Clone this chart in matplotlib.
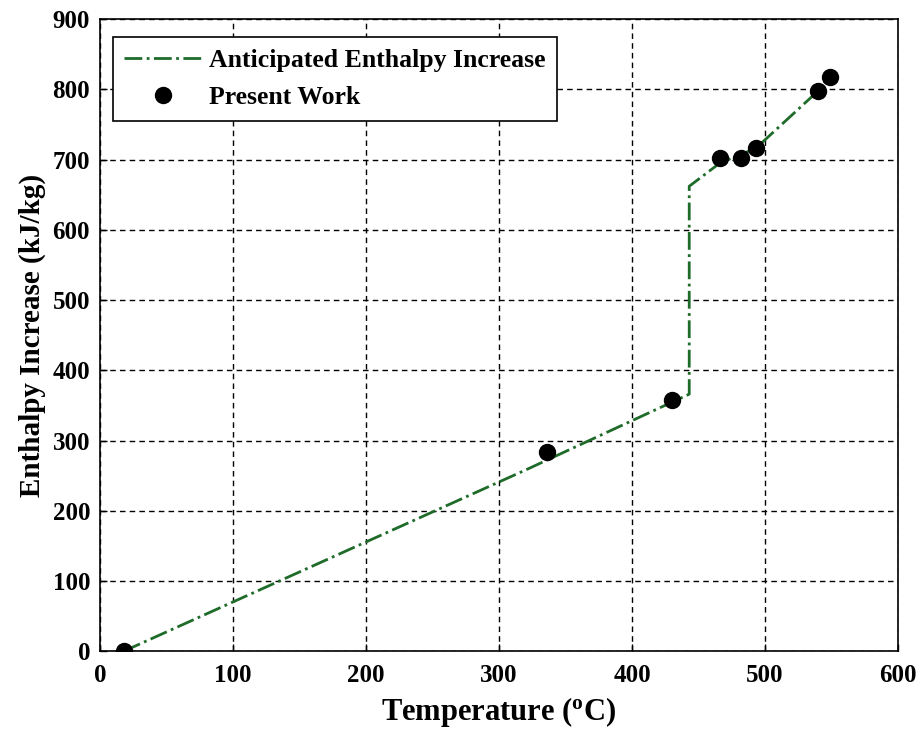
import matplotlib
matplotlib.use("Agg")
import matplotlib.pyplot as plt

# Anticipated enthalpy increase curve (vertices)
line_T = [18, 320, 443, 443, 466, 493, 540, 548]
line_H = [0, 258, 366, 662, 695, 716, 798, 818]

# Present work data points
pts_T = [18, 336, 430, 466, 482, 493, 540, 549]
pts_H = [0, 284, 358, 702, 702, 716, 798, 818]

xticks = [0, 100, 200, 300, 400, 500, 600]
yticks = [0, 100, 200, 300, 400, 500, 600, 700, 800, 900]

plt.rcParams['font.family'] = ['Liberation Serif', 'DejaVu Serif']
plt.rcParams['font.weight'] = 'bold'
plt.rcParams['mathtext.fontset'] = 'custom'
plt.rcParams['mathtext.rm'] = 'Liberation Serif:bold'
plt.rcParams['mathtext.bf'] = 'Liberation Serif:bold'
plt.rcParams['mathtext.it'] = 'Liberation Serif:bold:italic'

fig = plt.figure(figsize=(9.24, 7.35), dpi=100)
ax = fig.add_axes([0.108, 0.114, 0.864, 0.860])

ax.plot(line_T, line_H, linestyle='-.', color='#1e6b2a', linewidth=2,
        label='Anticipated Enthalpy Increase', zorder=3)
ax.plot(pts_T, pts_H, 'o', color='black', markersize=11.5,
        label='Present Work', zorder=4)

ax.set_xlim(0, 600)
ax.set_ylim(0, 900)
ax.set_xticks(xticks)
ax.set_yticks(yticks)
ax.tick_params(direction='in', labelsize=18, length=5, width=1)
ax.tick_params(axis='x', pad=9)
ax.tick_params(axis='y', pad=7)
for lab in ax.get_xticklabels() + ax.get_yticklabels():
    lab.set_fontweight('bold')
ax.grid(True, color='black', linestyle=(0, (4, 3)), linewidth=1)
for s in ax.spines.values():
    s.set_linewidth(1.2)

ax.set_xlabel('Temperature ($^{\\mathrm{o}}$C)', fontsize=22, fontweight='bold',
              labelpad=6)
ax.set_ylabel('Enthalpy Increase (kJ/kg)', fontsize=21, fontweight='bold',
              labelpad=5)

leg = ax.legend(loc='upper left', frameon=True, fancybox=False,
                edgecolor='black', framealpha=1,
                bbox_to_anchor=(0.016, 0.971), borderaxespad=0,
                handlelength=3.0, handletextpad=0.3, labelspacing=0.55,
                borderpad=0.45,
                prop={'weight': 'bold', 'size': 18.5})
leg.get_frame().set_linewidth(1.2)

fig.savefig('out.png', dpi=100)
